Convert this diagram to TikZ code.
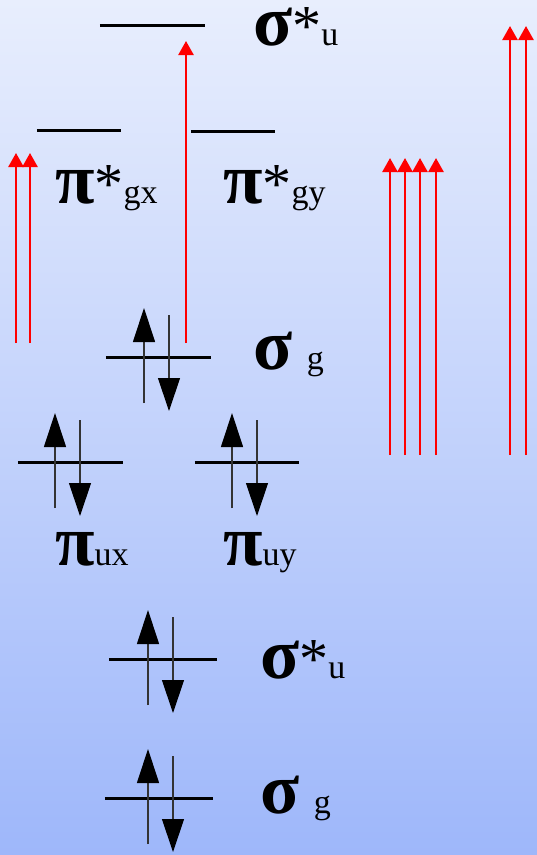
\documentclass[tikz,border=0pt]{standalone}
\usepackage{fontspec}
\setmainfont{Liberation Serif}
\usepackage{xcolor}
\usetikzlibrary{arrows.meta}
\definecolor{bgtop}{RGB}{232,238,253}
\definecolor{bgbot}{RGB}{158,183,250}
% greek letter, star, subscript
\newcommand{\orblabel}[3]{{\fontsize{72}{74}\selectfont\bfseries #1}{\fontsize{58}{60}\selectfont #2}{\fontsize{34}{36}\selectfont #3}}
\begin{document}
\begin{tikzpicture}[x=1pt, y=-1pt,
  lvl/.style={minimum height=0pt, inner sep=0pt},
  lvline/.style={line width=3pt, black},
  eup/.style={-{Triangle[length=34pt, width=22pt, color=black]}, line width=1.2pt, black!80},
  edn/.style={-{Triangle[length=33pt, width=22pt, color=black]}, line width=1.2pt, black!80},
  absarr/.style={-{Triangle[length=14pt, width=15pt]}, line width=2.5pt, red},
  lab/.style={anchor=base west, inner sep=0pt, text height=34pt, text depth=10pt}]
% background
\shade[top color=bgtop, bottom color=bgbot] (0,0) rectangle (537,855);
\useasboundingbox (0,0) rectangle (537,855);
% energy levels
\node[lvl, minimum width=105pt] (suT) at (152.5,25) {};
\node[lvl, minimum width=84pt] (pgx) at (79,130) {};
\node[lvl, minimum width=84pt] (pgy) at (233,131) {};
\node[lvl, minimum width=105pt] (sgM) at (158.5,357) {};
\node[lvl, minimum width=105pt] (pux) at (70.5,462) {};
\node[lvl, minimum width=104pt] (puy) at (247,462) {};
\node[lvl, minimum width=108pt] (suL) at (163,659) {};
\node[lvl, minimum width=108pt] (sgL) at (159,798) {};
\foreach \lv in {suT,pgx,pgy,sgM,pux,puy,suL,sgL}
  \draw[lvline] (\lv.west) -- (\lv.east);
% electron pairs
\foreach \lv/\u/\d in {sgM/-14.5/10.5, pux/-15.5/9.5, puy/-15/10, suL/-15/10, sgL/-11/14} {
  \draw[eup] ([shift={(\u,46)}]\lv.center) -- ++(0,-95);
  \draw[edn] ([shift={(\d,-42)}]\lv.center) -- ++(0,96);
}
% labels
\node[lab] (lsuT) at (253,45) {\orblabel{σ}{*}{u}};
\node[lab] (lpgx) at (55,203) {\orblabel{π}{*}{gx}};
\node[lab] (lpgy) at (223,203) {\orblabel{π}{*}{gy}};
\node[lab] (lsgM) at (253,369) {\orblabel{σ}{ }{g}};
\node[lab] (lpux) at (55,565) {\orblabel{π}{}{ux}};
\node[lab] (lpuy) at (223,565) {\orblabel{π}{}{uy}};
\node[lab] (lsuL) at (260,678) {\orblabel{σ}{*}{u}};
\node[lab] (lsgL) at (260,813) {\orblabel{σ}{ }{g}};
% absorption arrows
\foreach \x/\ya/\yb in {16/343/153, 30/343/153, 186/343/41, 390/455/158, 405/455/158, 420/455/158, 436/455/158, 510/455/26, 526/455/26}
  \draw[absarr] (\x,\ya) -- (\x,\yb);
\end{tikzpicture}
\end{document}
